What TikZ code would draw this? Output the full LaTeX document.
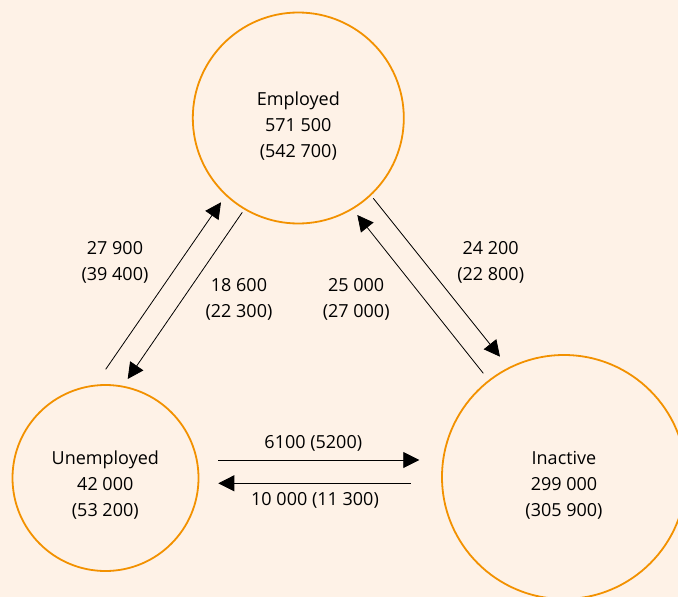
\documentclass[tikz,border=0pt]{standalone}
\usepackage{fontspec}
\setmainfont{Open Sans}
\usetikzlibrary{arrows.meta}

\definecolor{page back}{RGB}{254,242,231}
\definecolor{state edge}{RGB}{242,145,0}
\tikzset{
  state/.style={circle, draw=state edge, line width=1.8pt, inner sep=0pt},
  state text/.style={align=center, font=\fontsize{18}{26}\selectfont},
  flow label/.style={align=center, font=\fontsize{18}{26}\selectfont}
  }
\tikzstyle{flow} = [draw, line width=0.8pt, -{Triangle[length=16pt,width=16pt]}]

\begin{document}
\begin{tikzpicture}[x=1pt,y=-1pt]
    % The page
    \useasboundingbox[fill=page back] (0,0) rectangle (678,597);

    % The three states
    \foreach \pos/\name/\size in {{(298.3,118)/emp/211pt}, {(105.5,478)/une/186pt}, {(564,477)/ina/244pt}} {
      \node[state, minimum size=\size] (\name) at \pos {};
    }
    \node[state text] (emp-text) at (298.3,126) {Employed\\571 500\\(542 700)};
    \node[state text] (une-text) at (105.3,485) {Unemployed\\42 000\\(53 200)};
    \node[state text] (ina-text) at (564,485.5) {Inactive\\299 000\\(305 900)};

    % The ends of the flows
    \foreach \x/\y/\name in {105.7/369.3/ue-a, 221/202.3/ue-b, 242.3/212.3/eu-a, 127.7/379/eu-b,
                            483.3/373.3/ie-a, 357.3/215/ie-b, 373.3/198.3/ei-a, 500/356.7/ei-b,
                            218.3/460/ui-a, 419.3/460/ui-b, 410.7/483.3/iu-a, 218.3/483.3/iu-b} {
      \coordinate (\name) at (\x,\y);
    }

    % The flows between them
    \foreach \source/\sink in {ue-a/ue-b, eu-a/eu-b, ie-a/ie-b, ei-a/ei-b, ui-a/ui-b, iu-a/iu-b} {
      \path[flow] (\source) -- (\sink);
    }

    % The numbers on the flows
    \node[flow label] (ue-label) at (115,262.5) {27 900\\(39 400)};
    \node[flow label] (eu-label) at (239,299) {18 600\\(22 300)};
    \node[flow label] (ie-label) at (356.2,299) {25 000\\(27 000)};
    \node[flow label] (ei-label) at (490.7,262.5) {24 200\\(22 800)};
    \node[flow label] (ui-label) at (313.3,443.7) {6100 (5200)};
    \node[flow label] (iu-label) at (315,500.3) {10 000 (11 300)};

\end{tikzpicture}
\end{document}
